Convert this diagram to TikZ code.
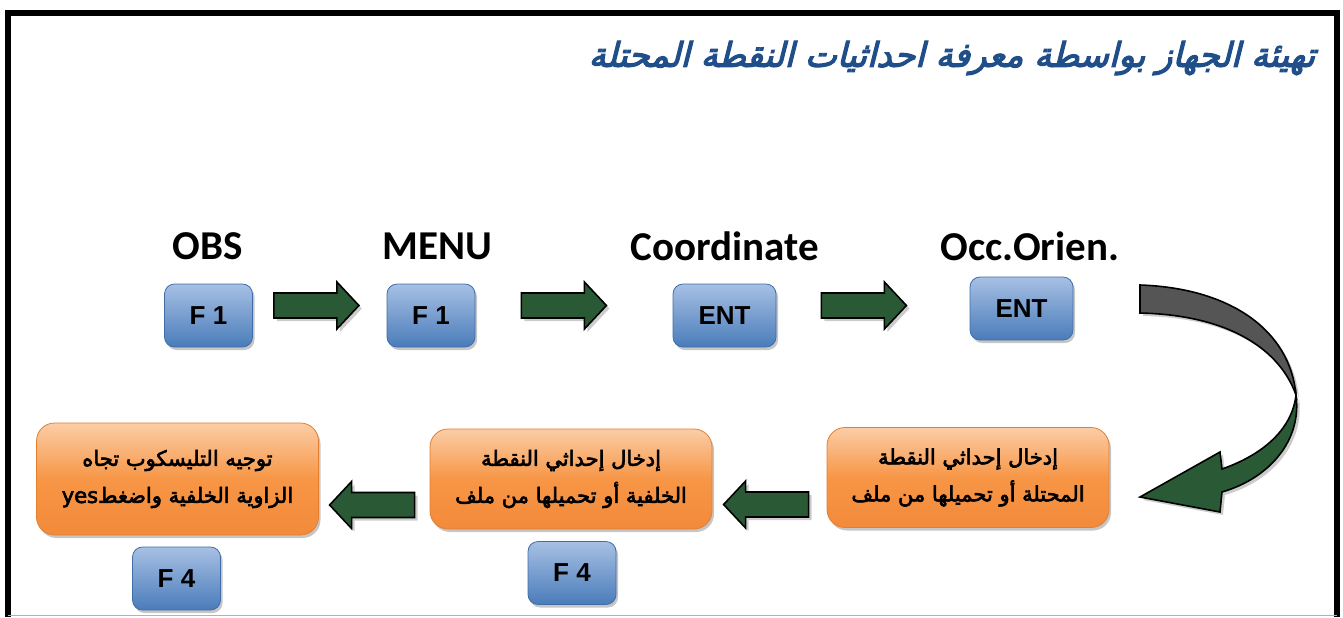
\documentclass[tikz,border=0pt]{standalone}
\usepackage{fontspec}
\setmainfont{Carlito}
\newfontfamily\keyfont{Liberation Sans}
\newfontfamily\arfont[Script=Arabic,FakeBold=3]{DejaVu Sans}
\newfontfamily\titlefont[Script=Arabic,FakeBold=3.5,FakeSlant=0.25]{DejaVu Sans}
\TeXXeTstate=1
\usetikzlibrary{positioning,calc,shadows}

\definecolor{keytop}{HTML}{A7C0E4}
\definecolor{keybot}{HTML}{4A7CBA}
\definecolor{keyedge}{HTML}{3F6DA8}
\definecolor{boxtop}{HTML}{FBCDA6}
\definecolor{boxmid}{HTML}{F79646}
\definecolor{boxbot}{HTML}{F38A3B}
\definecolor{boxedge}{HTML}{E3802F}
\definecolor{arrowgreen}{HTML}{2A5A35}
\definecolor{titleblue}{HTML}{1F4E89}
\definecolor{ribbongray}{HTML}{555555}

\tikzset{
  blockarrow/.pic={
    \draw[arrowbody] (0,-12.5) -- (63,-12.5) -- (63,-23.5) -- (85,0)
      -- (63,23.5) -- (63,12.5) -- (0,12.5) -- cycle;
  }
}

\begin{document}
\begin{tikzpicture}[x=0.5pt,y=-0.5pt,
  keybox/.style={rounded corners=5pt, draw=keyedge, top color=keytop,
    bottom color=keybot, inner sep=0pt, minimum width=44pt, minimum height=31.5pt,
    font=\keyfont\bfseries\fontsize{13}{15}\selectfont,
    drop shadow={shadow xshift=1pt, shadow yshift=-1.5pt, opacity=0.45}},
  stepname/.style={font=\bfseries\fontsize{20.5}{22}\selectfont},
  infobox/.style={rounded corners=9pt, draw=boxedge, top color=boxtop,
    bottom color=boxbot, middle color=boxmid, align=center, inner sep=0pt,
    minimum width=141pt, minimum height=50pt,
    font=\arfont\fontsize{10.5}{18.5}\selectfont,
    drop shadow={shadow xshift=1pt, shadow yshift=-1.5pt, opacity=0.45}},
  arrowbody/.style={fill=arrowgreen, draw=black, line width=0.8pt,
    drop shadow={shadow xshift=1.5pt, shadow yshift=-1.5pt, opacity=0.4}}
]
  \useasboundingbox (0,0) rectangle (1343,617);

  % frame
  \draw[line width=3pt] (8,617) -- (8,13) -- (1337,13) -- (1337,617);
  \draw[gray!60, line width=0.75pt] (8,615.5) -- (1337,615.5);

  % title
  \node[anchor=east, text=titleblue, font=\titlefont\fontsize{17}{20}\selectfont]
    (title) at (1322,58) {\beginR تهيئة الجهاز بواسطة معرفة احداثيات النقطة المحتلة\endR};

  % --- top row: keys ---
  \node[keybox] (k1) at (208.5,315.5) {F 1};
  \node[keybox] (k2) at (431,315.5) {F 1};
  \node[keybox, minimum width=51.5pt] (k3) at (724.5,315.5) {ENT};
  \node[keybox, minimum width=51.5pt] (k4) at (1021.5,308.5) {ENT};

  \node[stepname] (obs) at (208,246) {OBS};
  \node[stepname] (menu) at (437,246) {MENU};
  \node[stepname] (coord) at (725,246) {Coordinate};
  \node[stepname] (occ) at (1030,246) {Occ.Orien.};

  % --- bottom row: entries ---
  \node[infobox] (occin) at (968,477.5)
    {\beginR إدخال إحداثي النقطة\endR\\\beginR المحتلة أو تحميلها من ملف\endR};
  \node[infobox] (bsin) at (571,479)
    {\beginR إدخال إحداثي النقطة\endR\\\beginR الخلفية أو تحميلها من ملف\endR};
  \node[infobox, minimum height=56pt] (aim) at (177.5,479)
    {\beginR توجيه التليسكوب تجاه\endR\\\beginR الزاوية الخلفية واضغط\beginL yes\endL\endR};

  \node[keybox] (k5) at (572,573) {F 4};
  \node[keybox] (k6) at (176.5,578.5) {F 4};

  % --- green arrows ---
  \pic at ($(k1.east)+(21,-10)$) {blockarrow};
  \pic at ($(k2.east)+(46,-10)$) {blockarrow};
  \pic at ($(k3.east)+(45,-10)$) {blockarrow};
  \pic[rotate=180] at ($(occin.west)+(-18,27)$) {blockarrow};
  \pic[rotate=180] at ($(bsin.west)+(-15,26)$) {blockarrow};

  % turning ribbon
  \fill[ribbongray, draw=black, line width=0.8pt,
    drop shadow={shadow xshift=1.5pt, shadow yshift=-1.5pt, opacity=0.4}]
    (1140,285) .. controls (1230,288) and (1290,330) .. (1296,395)
    .. controls (1280,350) and (1230,315) .. (1140,313) -- cycle;
  \draw[arrowbody]
    (1296,395) .. controls (1302,440) and (1270,478) .. (1222,492)
    -- (1220,512) -- (1140,497) -- (1220,452) -- (1222,469)
    .. controls (1262,455) and (1292,430) .. (1296,395) -- cycle;
\end{tikzpicture}
\end{document}
